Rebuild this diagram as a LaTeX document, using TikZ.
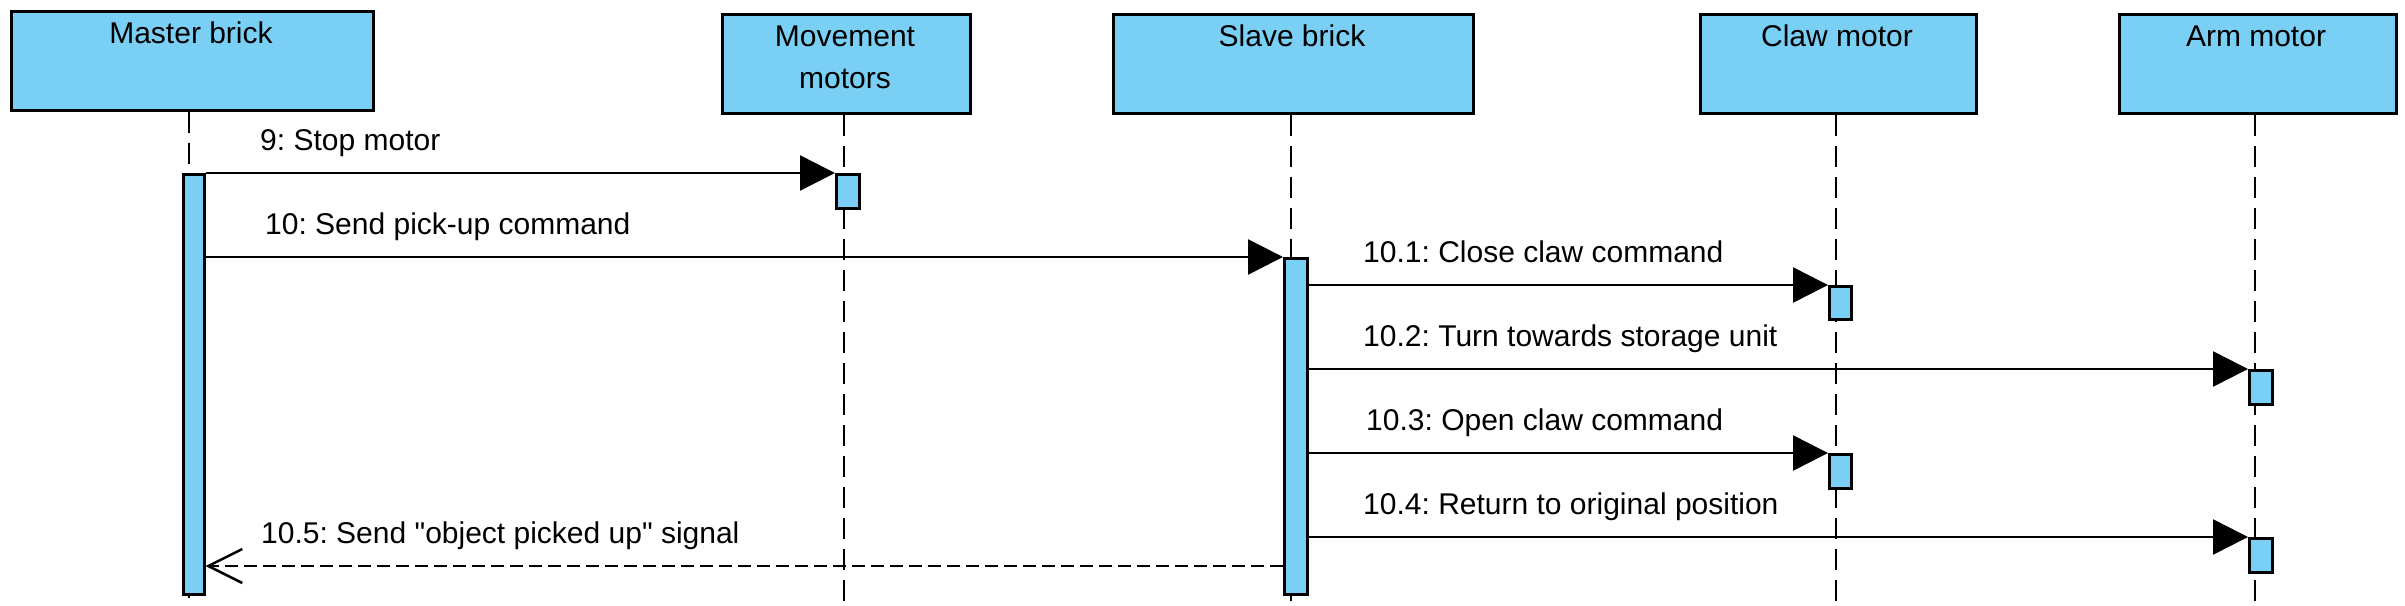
\documentclass[tikz,border=0pt]{standalone}
\usepackage{fontspec}
\setmainfont{Liberation Sans}[Ligatures=TeXOff]
\usetikzlibrary{arrows.meta}
\frenchspacing
\definecolor{actblue}{RGB}{122,207,245}
\tikzset{
  head/.style={draw=black,line width=3pt,fill=actblue,rectangle,inner sep=0pt,anchor=north west},
  headtxt/.style={anchor=base,inner sep=0pt,align=center,font=\fontsize{30}{42}\selectfont},
  lifeline/.style={line width=2pt,dash pattern=on 21pt off 10pt},
  act/.style={draw=black,line width=2.5pt,fill=actblue,rectangle,inner sep=0pt,anchor=north west},
  msg/.style={line width=2.5pt,-{Triangle[length=35pt,width=35pt]}},
  ret/.style={line width=2.5pt,dash pattern=on 13pt off 6pt,-{Straight Barb[length=34pt,width=34pt,line width=2.5pt]}},
  lbl/.style={anchor=base west,inner sep=0pt,font=\fontsize{30}{36}\selectfont}
}
\begin{document}
\begin{tikzpicture}[x=1pt,y=-1pt]
\useasboundingbox (0,0) rectangle (2405,605);
% header boxes
\node[head,minimum width=362pt,minimum height=99pt] (hM) at (10,10) {};
\node[head,minimum width=248pt,minimum height=99pt] (hV) at (721,13) {};
\node[head,minimum width=360pt,minimum height=99pt] (hS) at (1112,13) {};
\node[head,minimum width=276pt,minimum height=99pt] (hC) at (1699,13) {};
\node[head,minimum width=277pt,minimum height=99pt] (hA) at (2118,13) {};
\node[headtxt] (tM) at (191,43) {Master brick};
\node[headtxt] (tV1) at (845,46) {Movement};
\node[headtxt] (tV2) at (845,88) {motors};
\node[headtxt] (tS) at (1292,46) {Slave brick};
\node[headtxt] (tC) at (1837,46) {Claw motor};
\node[headtxt] (tA) at (2256,46) {Arm motor};
% lifeline ends
\coordinate (eM) at (189,605);
\coordinate (eV) at (844,605);
\coordinate (eS) at (1291,605);
\coordinate (eC) at (1836,605);
\coordinate (eA) at (2255,605);
\draw[lifeline] (eM |- hM.south) -- (eM);
\draw[lifeline] (eV |- hV.south) -- (eV);
\draw[lifeline] (eS |- hS.south) -- (eS);
\draw[lifeline] (eC |- hC.south) -- (eC);
\draw[lifeline] (eA |- hA.south) -- (eA);
% activations
\node[act,minimum width=21pt,minimum height=420pt] (aM) at (182,173) {};
\node[act,minimum width=23pt,minimum height=34pt] (aV) at (835,173) {};
\node[act,minimum width=23pt,minimum height=336pt] (aS) at (1283,257) {};
\node[act,minimum width=22pt,minimum height=33pt] (aC1) at (1828,285) {};
\node[act,minimum width=23pt,minimum height=34pt] (aA1) at (2248,369) {};
\node[act,minimum width=22pt,minimum height=34pt] (aC2) at (1828,453) {};
\node[act,minimum width=23pt,minimum height=34pt] (aA2) at (2248,537) {};
% messages
\draw[msg] (aM.north east) -- (aV.north west);
\draw[msg] (aM.east |- aS.north) -- (aS.north west);
\draw[msg] (aS.east |- aC1.north) -- (aC1.north west);
\draw[msg] (aS.east |- aA1.north) -- (aA1.north west);
\draw[msg] (aS.east |- aC2.north) -- (aC2.north west);
\draw[msg] (aS.east |- aA2.north) -- (aA2.north west);
\coordinate (r5) at (0,566);
\draw[ret] (aS.west |- r5) -- (aM.east |- r5);
% labels
\node[lbl] (l9) at (260,150) {9: Stop motor};
\node[lbl] (l10) at (265,234) {10: Send pick-up command};
\node[lbl] (l101) at (1363,262) {10.1: Close claw command};
\node[lbl] (l102) at (1363,346) {10.2: Turn towards storage unit};
\node[lbl] (l103) at (1366,430) {10.3: Open claw command};
\node[lbl] (l104) at (1363,514) {10.4: Return to original position};
\node[lbl] (l105) at (261,543) {10.5: Send "object picked up" signal};
\end{tikzpicture}
\end{document}
